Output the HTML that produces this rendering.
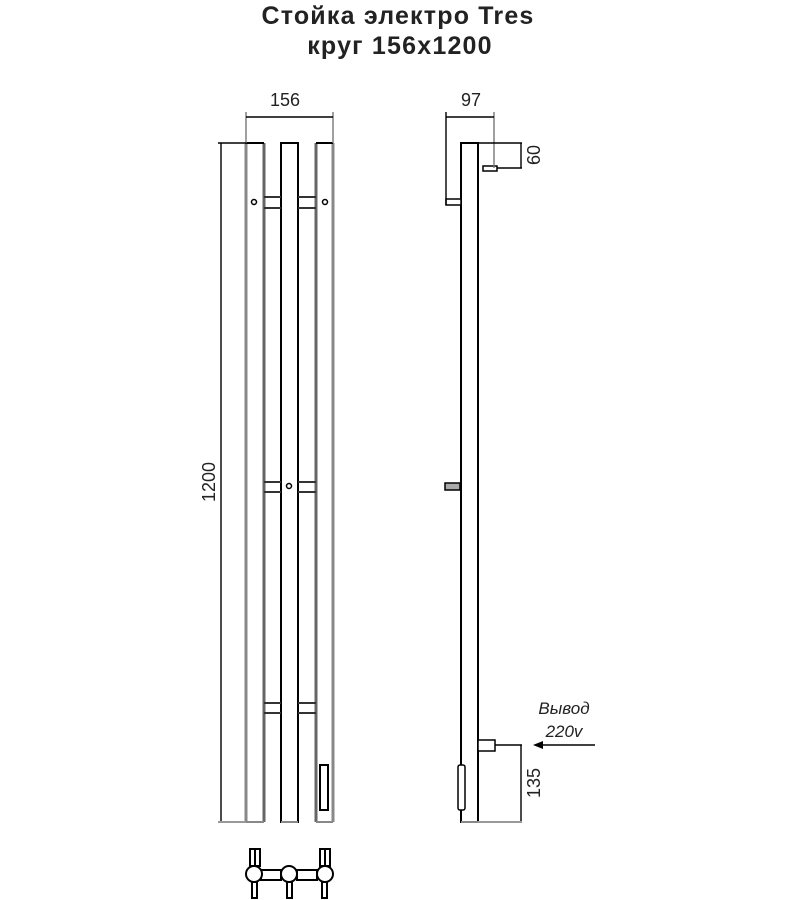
<!DOCTYPE html>
<html><head><meta charset="utf-8"><style>
html,body{margin:0;padding:0;background:#fff;width:800px;height:900px;overflow:hidden}
</style></head><body>
<svg width="800" height="900" viewBox="0 0 800 900" xmlns="http://www.w3.org/2000/svg" font-family="'Liberation Sans', sans-serif">
<rect width="800" height="900" fill="#fff"/>
<text x="398" y="24" font-size="25" font-weight="bold" text-anchor="middle" fill="#222" letter-spacing="1.2">Стойка электро Tres</text>
<text x="400" y="54" font-size="25" font-weight="bold" text-anchor="middle" fill="#222" letter-spacing="1.2">круг 156x1200</text>

<g stroke="#000" stroke-width="2" fill="none">
<line x1="246" y1="143" x2="246" y2="822" stroke="#888" stroke-width="3"/>
<line x1="264" y1="143" x2="264" y2="822" stroke="#666" stroke-width="3"/>
<line x1="246" y1="143" x2="264" y2="143"/>
<line x1="246" y1="822" x2="264" y2="822" stroke="#888"/>
<rect x="281" y="143" width="17" height="679"/>
<line x1="281" y1="822" x2="298" y2="822" stroke="#888"/>
<line x1="316" y1="143" x2="316" y2="822" stroke="#666" stroke-width="3"/>
<line x1="333" y1="143" x2="333" y2="822" stroke="#888" stroke-width="3"/>
<line x1="316" y1="143" x2="333" y2="143"/>
<line x1="316" y1="822" x2="333" y2="822" stroke="#888"/>
<rect x="320" y="765" width="8" height="45"/>
<g stroke="#333">
<line x1="264" y1="197" x2="281" y2="197"/><line x1="264" y1="208" x2="281" y2="208"/>
<line x1="298" y1="197" x2="316" y2="197"/><line x1="298" y1="208" x2="316" y2="208"/>
<line x1="264" y1="482" x2="281" y2="482"/><line x1="264" y1="492" x2="281" y2="492"/>
<line x1="298" y1="482" x2="316" y2="482"/><line x1="298" y1="492" x2="316" y2="492"/>
<line x1="264" y1="703" x2="281" y2="703"/><line x1="264" y1="713" x2="281" y2="713"/>
<line x1="298" y1="703" x2="316" y2="703"/><line x1="298" y1="713" x2="316" y2="713"/>
</g>
<circle cx="254" cy="202" r="2.5" stroke-width="1.5"/>
<circle cx="325" cy="202" r="2.5" stroke-width="1.5"/>
<circle cx="289" cy="486" r="2.5" stroke-width="1.5"/>
</g>
<g stroke="#000" stroke-width="1.4" fill="none">
<line x1="246" y1="112" x2="246" y2="143" stroke="#777"/>
<line x1="333" y1="112" x2="333" y2="143" stroke="#777"/>
<line x1="246" y1="117" x2="333" y2="117"/>
<line x1="221" y1="143" x2="221" y2="822"/>
<line x1="218" y1="143" x2="246" y2="143"/>
<line x1="218" y1="822" x2="246" y2="822" stroke="#999" stroke-width="2"/>
</g>
<text x="285" y="106" font-size="18" text-anchor="middle" fill="#222">156</text>
<text transform="translate(215,482) rotate(-90)" font-size="18" text-anchor="middle" fill="#222">1200</text>

<g stroke="#000" stroke-width="2" fill="#fff">
<rect x="261" y="870" width="20" height="10"/>
<rect x="297" y="870" width="20" height="10"/>
<rect x="250" y="849" width="10" height="17"/>
<rect x="320" y="849" width="10" height="17"/>
<line x1="255" y1="849" x2="255" y2="866"/><line x1="325" y1="849" x2="325" y2="866"/>
<rect x="252" y="882" width="5" height="16"/>
<rect x="287" y="882" width="5" height="16"/>
<rect x="322" y="882" width="5" height="16"/>
<circle cx="254" cy="874" r="8"/>
<circle cx="289" cy="874" r="8"/>
<circle cx="325" cy="874" r="8"/>
</g>

<g stroke="#000" stroke-width="2" fill="#fff">
<rect x="461" y="143" width="17" height="679" fill="none"/>
<line x1="461" y1="822" x2="478" y2="822" stroke="#888"/>
<rect x="483" y="166" width="14" height="5" stroke-width="1.5"/>
<rect x="446" y="199" width="15" height="6" stroke-width="1.5"/>
<rect x="445" y="483" width="15" height="7" stroke-width="1.5" fill="#aaa"/>
<rect x="478" y="740" width="17" height="11" stroke-width="1.5"/>
<rect x="458" y="765" width="7" height="45" rx="2" stroke-width="1.5"/>
</g>
<g stroke="#000" stroke-width="1.4" fill="none">
<line x1="446" y1="112" x2="446" y2="205"/>
<line x1="494" y1="112" x2="494" y2="168" stroke="#777"/>
<line x1="446" y1="117" x2="494" y2="117"/>
<line x1="478" y1="143" x2="522" y2="143"/>
<line x1="497" y1="168" x2="522" y2="168"/>
<line x1="521" y1="143" x2="521" y2="168"/>
<line x1="495" y1="745" x2="522" y2="745"/>
<line x1="521" y1="745" x2="521" y2="822"/>
<line x1="478" y1="822" x2="522" y2="822" stroke="#999" stroke-width="2"/>
<line x1="540" y1="745" x2="595" y2="745"/>
</g>
<polygon points="533,745 543,741 543,749" fill="#000"/>
<text x="471" y="106" font-size="18" text-anchor="middle" fill="#222">97</text>
<text transform="translate(540,155) rotate(-90)" font-size="18" text-anchor="middle" fill="#222">60</text>
<text transform="translate(540,783) rotate(-90)" font-size="18" text-anchor="middle" fill="#222">135</text>
<text x="564" y="714" font-size="17" font-style="italic" text-anchor="middle" fill="#222">Вывод</text>
<text x="564" y="737" font-size="17" font-style="italic" text-anchor="middle" fill="#222">220v</text>
</svg>
</body></html>
